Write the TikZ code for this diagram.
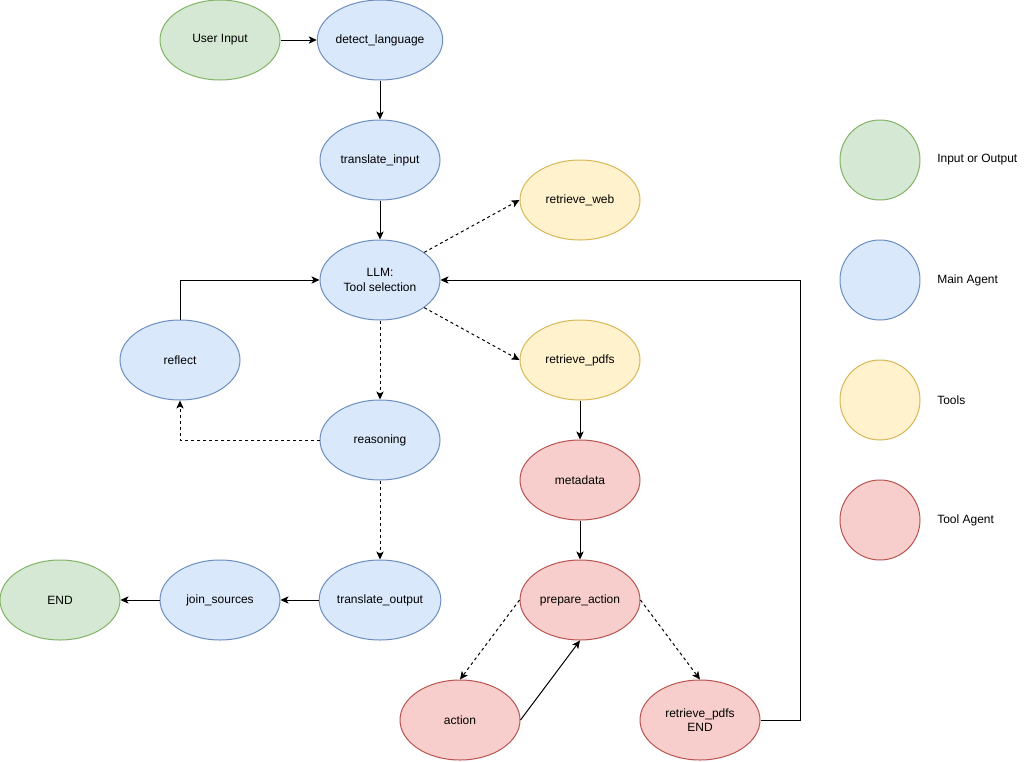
\documentclass[tikz,border=0pt]{standalone}
\usepackage{fontspec}
\setmainfont{Liberation Sans}
\usetikzlibrary{shapes.geometric,arrows.meta}
\definecolor{gfill}{HTML}{D5E8D4}\definecolor{gdraw}{HTML}{82B366}
\definecolor{bfill}{HTML}{DAE8FC}\definecolor{bdraw}{HTML}{6C8EBF}
\definecolor{yfill}{HTML}{FFF2CC}\definecolor{ydraw}{HTML}{D6B656}
\definecolor{rfill}{HTML}{F8CECC}\definecolor{rdraw}{HTML}{B85450}
\tikzset{
  el/.style={ellipse,minimum width=90pt,minimum height=60pt,inner sep=0pt,line width=0.75pt,align=center,font=\fontsize{9}{11}\selectfont},
  gn/.style={el,fill=gfill,draw=gdraw},
  bn/.style={el,fill=bfill,draw=bdraw},
  yn/.style={el,fill=yfill,draw=ydraw},
  rn/.style={el,fill=rfill,draw=rdraw},
  lg/.style={circle,minimum size=60pt,inner sep=0pt,line width=0.75pt},
  lt/.style={anchor=west,inner sep=0pt,font=\fontsize{9}{11}\selectfont},
  arr/.style={line width=0.75pt,-{Stealth[length=6pt,width=5.5pt,inset=1.5pt]}},
  darr/.style={arr,dash pattern=on 2.25pt off 2.25pt},
}
\begin{document}
\begin{tikzpicture}[x=0.75pt,y=-0.75pt]
\useasboundingbox (0,0) rectangle (1036,761);
\node[gn] (ui) at (220,40) {User Input};
\node[bn] (dl) at (380,40) {detect\_language};
\node[bn] (ti) at (380,160) {translate\_input};
\node[yn] (rw) at (580,200) {retrieve\_web};
\node[bn] (llm) at (380,280) {LLM:\\Tool selection};
\node[bn] (rf) at (180,360) {reflect};
\node[yn] (rp) at (580,360) {retrieve\_pdfs};
\node[bn] (rs) at (380,440) {reasoning};
\node[rn] (md) at (580,480) {metadata};
\node[gn] (end) at (60,600) {END};
\node[bn] (js) at (220,600) {join\_sources};
\node[bn] (to) at (380,600) {translate\_output};
\node[rn] (pa) at (580,600) {prepare\_action};
\node[rn] (ac) at (460,720) {action};
\node[rn] (re) at (700,720) {retrieve\_pdfs\\END};
% legend
\node[lg,fill=gfill,draw=gdraw] (l1) at (880,160) {};
\node[lg,fill=bfill,draw=bdraw] (l2) at (880,280) {};
\node[lg,fill=yfill,draw=ydraw] (l3) at (880,400) {};
\node[lg,fill=rfill,draw=rdraw] (l4) at (880,520) {};
\node[lt] (t1) at (937,160) {Input or Output};
\node[lt] (t2) at (937,280) {Main Agent};
\node[lt] (t3) at (937,400) {Tools};
\node[lt] (t4) at (937,520) {Tool Agent};
% edges
\draw[arr] (ui) -- (dl);
\draw[arr] (dl) -- (ti);
\draw[arr] (ti) -- (llm);
\draw[darr] (llm.32) -- (rw.west);
\draw[darr] (llm.-32) -- (rp.west);
\draw[darr] (llm) -- (rs);
\draw[darr] (rs.west) -| (rf.south);
\draw[arr] (rf.north) |- (llm.west);
\draw[darr] (rs) -- (to);
\draw[arr] (to) -- (js);
\draw[arr] (js) -- (end);
\draw[arr] (rp) -- (md);
\draw[arr] (md) -- (pa);
\draw[darr] (pa.west) -- (ac.north);
\draw[arr] (ac.east) -- (pa.south);
\draw[darr] (pa.east) -- (re.north);
\coordinate (c1) at (800,720);
\coordinate (c2) at (800,280);
\draw[arr] (re.east) -- (c1) -- (c2) -- (llm.east);
\end{tikzpicture}
\end{document}
